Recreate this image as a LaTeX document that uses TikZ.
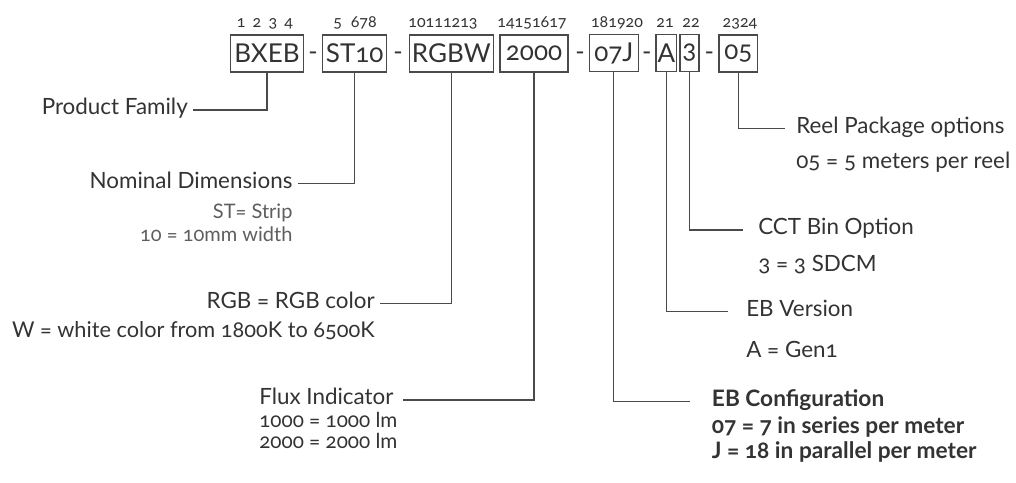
\documentclass[tikz,border=0pt]{standalone}
\usepackage{fontspec}
\setmainfont{Lato}[Numbers=OldStyle]
\usepackage{xcolor}
\usepackage{tikz}
\usetikzlibrary{positioning}
\definecolor{pnText}{HTML}{333333}
\definecolor{pnRule}{HTML}{4A4A4A}
\definecolor{pnLight}{HTML}{5E5E5E}

\begin{document}
\begin{tikzpicture}[x=0.75pt,y=-0.75pt,
  font=\fontsize{16.8}{18}\selectfont, text=pnText,
  code/.style={draw=pnRule, line width=0.9pt, inner sep=0pt, minimum height=27.75pt,
               font=\fontsize{19.5}{20}\selectfont},
  digitpos/.style={anchor=base, inner sep=0pt, font=\fontsize{12}{14}\selectfont},
  sep/.style={inner sep=0pt, font=\fontsize{19}{20}\selectfont},
  lbl/.style={inner sep=0pt, text height=1.7ex, text depth=0.3ex},
  sub/.style={inner sep=0pt},
  lead/.style={pnRule, line width=0.9pt}]
\useasboundingbox (0,0) rectangle (1016,482);

% part number boxes
\node[code, minimum width=54.5pt] (bxeb) at (267,53.5) {BXEB};
\node[code, minimum width=48pt] (st) at (354.7,53.5) {ST10};
\node[code, minimum width=63pt] (rgbw) at (451.3,53.5) {RGBW};
\node[code, minimum width=51pt] (flux) at (534,53.5) {2000};
\node[code, minimum width=36.75pt] (cfg) at (613.8,53) {07J};
\node[code, minimum width=15.5pt] (ver) at (666.3,53) {A};
\node[code, minimum width=14.25pt] (cct) at (689.5,53) {3};
\node[code, minimum width=29pt] (reel) at (738.3,53.5) {05};

\node[sep] (d1) at (313,56) {-};
\node[sep] (d2) at (398,56) {-};
\node[sep] (d3) at (580,56) {-};
\node[sep] (d4) at (646.7,56) {-};
\node[sep] (d5) at (709.3,56) {-};

% digit positions
\node[digitpos] (p1) at (265,27) {1\hspace{0.45em}2\hspace{0.45em}3\hspace{0.45em}4};
\node[digitpos] (p2) at (355,27) {5\hspace{0.55em}678};
\node[digitpos] (p3) at (443,27) {10111213};
\node[digitpos] (p4) at (532,27) {14151617};
\node[digitpos] (p5) at (617,27) {181920};
\node[digitpos] (p6) at (665,27) {21};
\node[digitpos] (p7) at (691,27) {22};
\node[digitpos] (p8) at (740,27) {2324};

% left side
\node[lbl, anchor=east] (famL) at (188,110) {Product Family};
\node[lbl, anchor=east] (stL) at (292.7,183.3) {Nominal Dimensions};
\node[sub, anchor=base east, pnLight, font=\fontsize{15}{16}\selectfont] (stA) at (292.7,218) {ST= Strip};
\node[sub, anchor=base east, pnLight, font=\fontsize{15}{16}\selectfont] (stB) at (292.7,241) {10 = 10mm width};
\node[lbl, anchor=east] (rgbL) at (375,303.3) {RGB = RGB color};
\node[sub, anchor=base east, font=\fontsize{16.3}{18}\selectfont] (rgbA) at (375,337) {W = white color from 1800K to 6500K};
\node[lbl, anchor=west] (fluxL) at (259,400) {Flux Indicator};
\node[sub, anchor=base west, font=\fontsize{15.5}{16}\selectfont] (fluxA) at (259,427) {1000 = 1000 lm};
\node[sub, anchor=base west, font=\fontsize{15.5}{16}\selectfont] (fluxB) at (259,448) {2000 = 2000 lm};

% right side
\node[lbl, anchor=west] (reelL) at (796,128.3) {Reel Package options};
\node[sub, anchor=base west] (reelA) at (796,168) {05 = 5 meters per reel};
\node[lbl, anchor=west] (cctL) at (758,230) {CCT Bin Option};
\node[sub, anchor=base west] (cctA) at (758,271.7) {3 = 3 SDCM};
\node[lbl, anchor=west] (verL) at (746,311.7) {EB Version};
\node[sub, anchor=base west] (verA) at (746,357) {A = Gen1};
\node[lbl, anchor=west, font=\fontsize{17}{18}\selectfont\bfseries] (cfgL) at (711.7,401.7) {EB Configuration};
\node[sub, anchor=base west, font=\fontsize{17}{18}\selectfont\bfseries] (cfgA) at (711.7,433.3) {07 = 7 in series per meter};
\node[sub, anchor=base west, font=\fontsize{17}{18}\selectfont\bfseries] (cfgB) at (711.7,458.3) {J = 18 in parallel per meter};

% leaders
\draw[lead, shorten >=3.5pt] (bxeb.south) |- (famL.east);
\draw[lead, shorten >=4pt] (st.south) |- (stL.east);
\draw[lead, shorten >=3.75pt] (rgbw.south) |- (rgbL.east);
\draw[lead, shorten >=7pt] (flux.south) |- (fluxL.east);
\draw[lead, shorten >=16.3pt] (cfg.south) |- (cfgL.west);
\draw[lead, shorten >=13.3pt] (ver.south) |- (verL.west);
\draw[lead, shorten >=11pt] (cct.south) |- (cctL.west);
\draw[lead, shorten >=8.25pt] (reel.south) |- (reelL.west);
\end{tikzpicture}
\end{document}
